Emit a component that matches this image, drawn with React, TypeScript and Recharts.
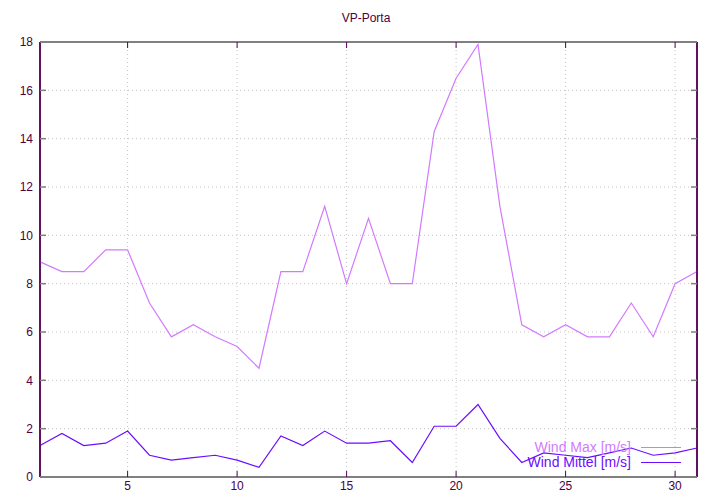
import { LineChart, Line, XAxis, YAxis, CartesianGrid, ReferenceLine } from 'recharts';

const days = [1, 2, 3, 4, 5, 6, 7, 8, 9, 10, 11, 12, 13, 14, 15, 16, 17, 18, 19, 20, 21, 22, 23, 24, 25, 26, 27, 28, 29, 30, 31];
const windMax = [8.9, 8.5, 8.5, 9.4, 9.4, 7.2, 5.8, 6.3, 5.8, 5.4, 4.5, 8.5, 8.5, 11.2, 8.0, 10.7, 8.0, 8.0, 14.3, 16.5, 17.9, 11.2, 6.3, 5.8, 6.3, 5.8, 5.8, 7.2, 5.8, 8.0, 8.5];
const windMittel = [1.3, 1.8, 1.3, 1.4, 1.9, 0.9, 0.7, 0.8, 0.9, 0.7, 0.4, 1.7, 1.3, 1.9, 1.4, 1.4, 1.5, 0.6, 2.1, 2.1, 3.0, 1.6, 0.6, 1.0, 0.9, 0.8, 1.0, 1.2, 0.9, 1.0, 1.2];
const xTicks = [5, 10, 15, 20, 25, 30];
const yTicks = [0, 2, 4, 6, 8, 10, 12, 14, 16, 18];
const seriesNames = ['Wind Max [m/s]', 'Wind Mittel [m/s]'];
const title = 'VP-Porta';

const MAX_COLOR = '#d27aff';
const MITTEL_COLOR = '#6a0dff';
const TEXT_COLOR = '#4a0042';
const DARK_AXIS = '#5a0058';
const GREY_AXIS = '#808080';
const FONT = '"Liberation Sans", Arial, sans-serif';

const data = days.map((d, i) => ({ day: d, max: windMax[i], mittel: windMittel[i] }));

export default function App() {
  const tickStyle = { fill: TEXT_COLOR, fontSize: 12, fontFamily: FONT };
  return (
    <div style={{ position: 'absolute', left: 0, top: 0, width: 720, height: 504, background: '#fff' }}>
      <div style={{ position: 'absolute', left: 0, top: 11, width: 732, textAlign: 'center', fontFamily: FONT, fontSize: 12, color: TEXT_COLOR }}>
        {title}
      </div>
      <LineChart width={720} height={504} data={data} margin={{ top: 41, right: 22, left: 0, bottom: 0 }}>
        <CartesianGrid stroke="#c4c4c4" strokeDasharray="1 3" xAxisId="bottom" yAxisId="left" />
        <XAxis
          xAxisId="bottom"
          dataKey="day"
          type="number"
          domain={[1, 31]}
          ticks={xTicks}
          height={27}
          tickSize={-6}
          tickMargin={10}
          stroke={GREY_AXIS}
          strokeWidth={2}
          tickLine={{ stroke: DARK_AXIS, strokeWidth: 1 }}
          tick={tickStyle}
        />
        <XAxis
          xAxisId="top"
          orientation="top"
          dataKey="day"
          type="number"
          domain={[1, 31]}
          ticks={xTicks}
          height={1}
          tickSize={-6}
          stroke={GREY_AXIS}
          strokeWidth={2}
          tickLine={{ stroke: DARK_AXIS, strokeWidth: 1 }}
          tick={() => <g />}
        />
        <YAxis
          yAxisId="left"
          domain={[0, 18]}
          ticks={yTicks}
          width={40}
          tickSize={-6}
          tickMargin={13}
          stroke={DARK_AXIS}
          strokeWidth={1.5}
          tickLine={{ stroke: GREY_AXIS, strokeWidth: 1.5 }}
          tick={tickStyle}
        />
        <YAxis
          yAxisId="right"
          orientation="right"
          domain={[0, 18]}
          ticks={yTicks}
          width={1}
          tickSize={-6}
          stroke={DARK_AXIS}
          strokeWidth={1.5}
          tickLine={{ stroke: GREY_AXIS, strokeWidth: 1.5 }}
          tick={() => <g />}
        />
        <ReferenceLine xAxisId="bottom" yAxisId="left" y={18} stroke={GREY_AXIS} strokeWidth={2} />
        <ReferenceLine xAxisId="bottom" yAxisId="left" y={0} stroke={GREY_AXIS} strokeWidth={2} />
        <ReferenceLine xAxisId="bottom" yAxisId="left" x={31} stroke={DARK_AXIS} strokeWidth={1.5} />
        <ReferenceLine xAxisId="bottom" yAxisId="left" x={1} stroke={DARK_AXIS} strokeWidth={1.5} />
        <Line
          xAxisId="top"
          yAxisId="right"
          type="linear"
          dataKey="max"
          name={seriesNames[0]}
          stroke={MAX_COLOR}
          strokeWidth={1.2}
          dot={false}
          isAnimationActive={false}
        />
        <Line
          xAxisId="bottom"
          yAxisId="left"
          type="linear"
          dataKey="mittel"
          name={seriesNames[1]}
          stroke={MITTEL_COLOR}
          strokeWidth={1.2}
          dot={false}
          isAnimationActive={false}
        />
      </LineChart>
      {seriesNames.map((name, i) => (
        <div
          key={name}
          style={{ position: 'absolute', left: 400, top: 439 + i * 15, width: 281, height: 16, display: 'flex', alignItems: 'center', justifyContent: 'flex-end', fontFamily: FONT, fontSize: 14, color: i === 0 ? MAX_COLOR : MITTEL_COLOR }}
        >
          <span>{name}</span>
          <span style={{ display: 'inline-block', width: 40, height: 0, borderTop: `1.2px solid ${i === 0 ? MAX_COLOR : MITTEL_COLOR}`, marginLeft: 10 }} />
        </div>
      ))}
    </div>
  );
}
